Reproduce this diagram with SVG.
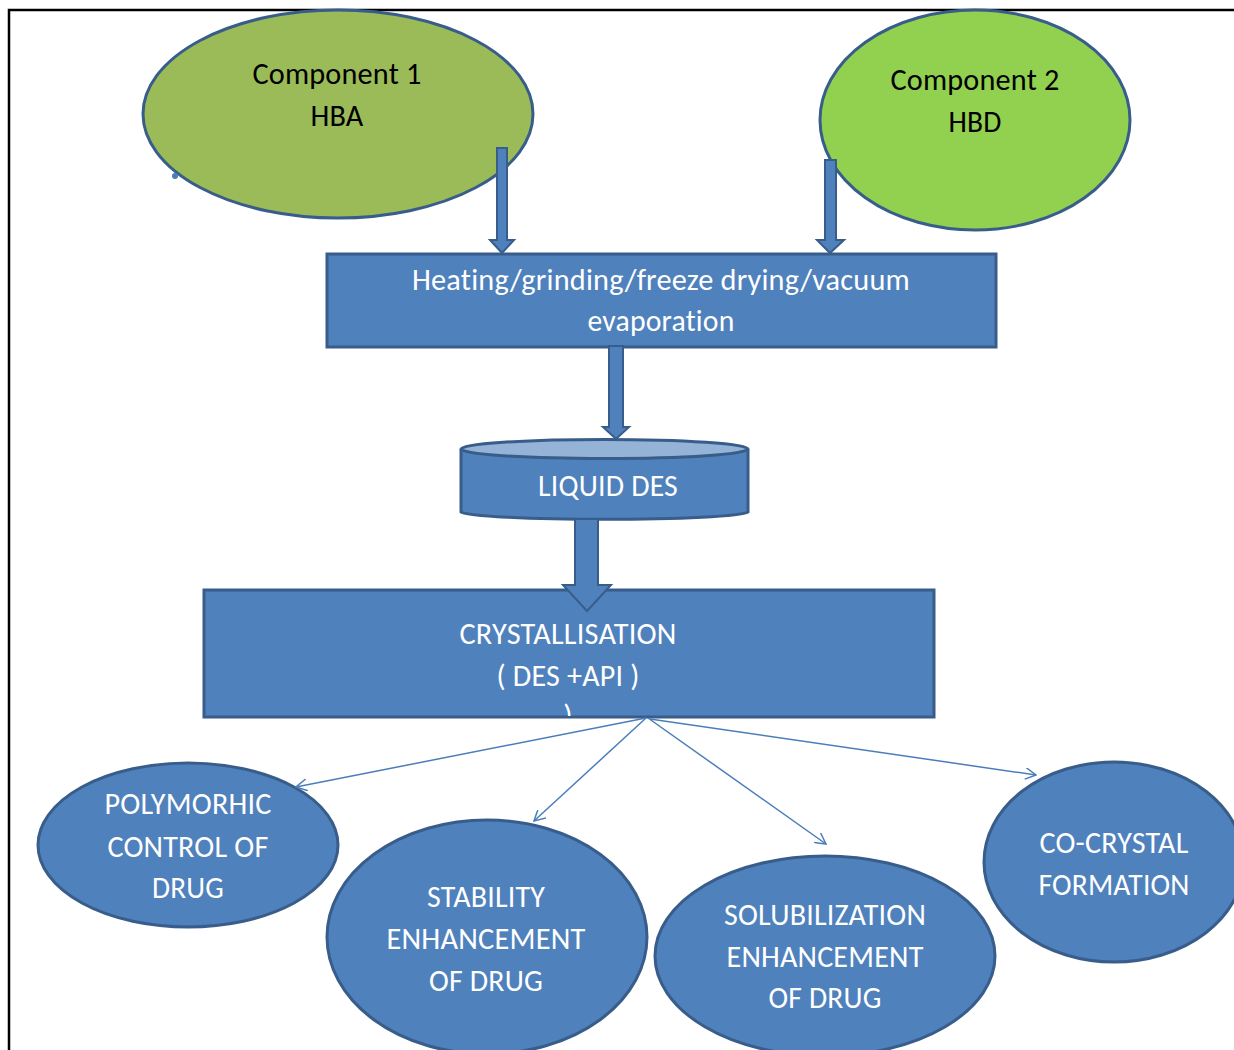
<svg xmlns="http://www.w3.org/2000/svg" width="1234" height="1050" viewBox="0 0 1234 1050">
<style>
.t{font-family:Carlito,Lato,"Liberation Sans",sans-serif;font-size:31px;text-anchor:middle;font-variant-ligatures:none;font-feature-settings:"liga" 0,"clig" 0,"dlig" 0;letter-spacing:0.2px}
.w{fill:#ffffff}
.k{fill:#000000}
.box{fill:#4F81BD;stroke:#385D8A;stroke-width:3}
.blk{fill:#4F81BD;stroke:#385D8A;stroke-width:2;stroke-linejoin:miter}
.thin{fill:none;stroke:#4A7EBB;stroke-width:1.5}
</style>
<defs>
<marker id="open" viewBox="0 0 12 12" refX="11" refY="6" markerWidth="12" markerHeight="12" markerUnits="userSpaceOnUse" orient="auto">
<path d="M0,0 L11,6 L0,12" fill="none" stroke="#4A7EBB" stroke-width="1.5"/>
</marker>
<clipPath id="cr"><rect x="204" y="589" width="730" height="127"/></clipPath>
</defs>
<rect x="0" y="0" width="1234" height="1050" fill="#ffffff"/>
<path d="M9,1050 L9,10 L1234,10" fill="none" stroke="#000" stroke-width="2.5"/>

<g id="component1">
<ellipse cx="338" cy="114" rx="195" ry="104" fill="#9BBB59" stroke="#385D8A" stroke-width="3"/>
<circle cx="175" cy="176" r="3" fill="#4A7EBB"/>
<text class="t k" x="337" y="84" textLength="169" lengthAdjust="spacingAndGlyphs">Component 1</text>
<text class="t k" x="337" y="126" textLength="53" lengthAdjust="spacingAndGlyphs">HBA</text>
</g>

<g id="component2">
<ellipse cx="975" cy="120" rx="155" ry="110" fill="#92D050" stroke="#385D8A" stroke-width="3"/>
<text class="t k" x="975" y="90" textLength="169" lengthAdjust="spacingAndGlyphs">Component 2</text>
<text class="t k" x="975" y="132" textLength="53" lengthAdjust="spacingAndGlyphs">HBD</text>
</g>

<g id="process">
<rect class="box" x="327" y="254" width="669" height="93"/>
<text class="t w" x="661" y="290" textLength="498" lengthAdjust="spacingAndGlyphs">Heating/grinding/freeze drying/vacuum</text>
<text class="t w" x="661" y="331" textLength="147" lengthAdjust="spacingAndGlyphs">evaporation</text>
</g>

<g id="liquid-des">
<path class="box" d="M461,449 L461,512 A144,8 0 0 0 748,512 L748,449"/>
<ellipse cx="604.5" cy="449" rx="143.5" ry="9.5" fill="#95B3D7" stroke="#385D8A" stroke-width="3"/>
<text class="t w" x="608" y="496" textLength="140" lengthAdjust="spacingAndGlyphs">LIQUID DES</text>
</g>

<g id="crystallisation">
<rect class="box" x="204" y="590" width="730" height="127"/>
<text class="t w" x="568" y="644" textLength="217" lengthAdjust="spacingAndGlyphs">CRYSTALLISATION</text>
<text class="t w" x="568" y="686" textLength="143" lengthAdjust="spacingAndGlyphs">( DES +API )</text>
<text class="t w" x="568" y="726" clip-path="url(#cr)">)</text>
</g>

<g id="polymorhic">
<ellipse cx="188" cy="845" rx="150" ry="82" fill="#4F81BD" stroke="#385D8A" stroke-width="3"/>
<text class="t w" x="188" y="814" textLength="167" lengthAdjust="spacingAndGlyphs">POLYMORHIC</text>
<text class="t w" x="188" y="857" textLength="161" lengthAdjust="spacingAndGlyphs">CONTROL OF</text>
<text class="t w" x="188" y="898" textLength="72" lengthAdjust="spacingAndGlyphs">DRUG</text>
</g>

<g id="stability">
<ellipse cx="487" cy="937" rx="160" ry="117" fill="#4F81BD" stroke="#385D8A" stroke-width="3"/>
<text class="t w" x="486" y="907" textLength="118" lengthAdjust="spacingAndGlyphs">STABILITY</text>
<text class="t w" x="486" y="949" textLength="199" lengthAdjust="spacingAndGlyphs">ENHANCEMENT</text>
<text class="t w" x="486" y="991" textLength="114" lengthAdjust="spacingAndGlyphs">OF DRUG</text>
</g>

<g id="solubilization">
<ellipse cx="825" cy="956" rx="170" ry="100" fill="#4F81BD" stroke="#385D8A" stroke-width="3"/>
<text class="t w" x="825" y="925" textLength="202" lengthAdjust="spacingAndGlyphs">SOLUBILIZATION</text>
<text class="t w" x="825" y="967" textLength="197" lengthAdjust="spacingAndGlyphs">ENHANCEMENT</text>
<text class="t w" x="825" y="1008" textLength="113" lengthAdjust="spacingAndGlyphs">OF DRUG</text>
</g>

<g id="co-crystal">
<ellipse cx="1114" cy="862" rx="130" ry="100" fill="#4F81BD" stroke="#385D8A" stroke-width="3"/>
<text class="t w" x="1114" y="853" textLength="149" lengthAdjust="spacingAndGlyphs">CO-CRYSTAL</text>
<text class="t w" x="1114" y="895" textLength="151" lengthAdjust="spacingAndGlyphs">FORMATION</text>
</g>

<g id="connectors">
<path class="blk" d="M497,148 L507,148 L507,240 L514,240 L502,253 L490,240 L497,240 Z"/>
<path class="blk" d="M825,160 L836,160 L836,240 L844,240 L830,253 L817,240 L825,240 Z"/>
<path class="blk" d="M609,346 L623,346 L623,427 L629,427 L616,439 L603,427 L609,427 Z"/>
<path class="blk" d="M575,519 L598,519 L598,585 L611,585 L587,611 L563,585 L575,585 Z"/>
<line class="thin" x1="646" y1="718" x2="296" y2="787" marker-end="url(#open)"/>
<line class="thin" x1="646" y1="718" x2="534" y2="821" marker-end="url(#open)"/>
<line class="thin" x1="648" y1="718" x2="826" y2="844" marker-end="url(#open)"/>
<line class="thin" x1="650" y1="719" x2="1036" y2="775" marker-end="url(#open)"/>
</g>
</svg>
